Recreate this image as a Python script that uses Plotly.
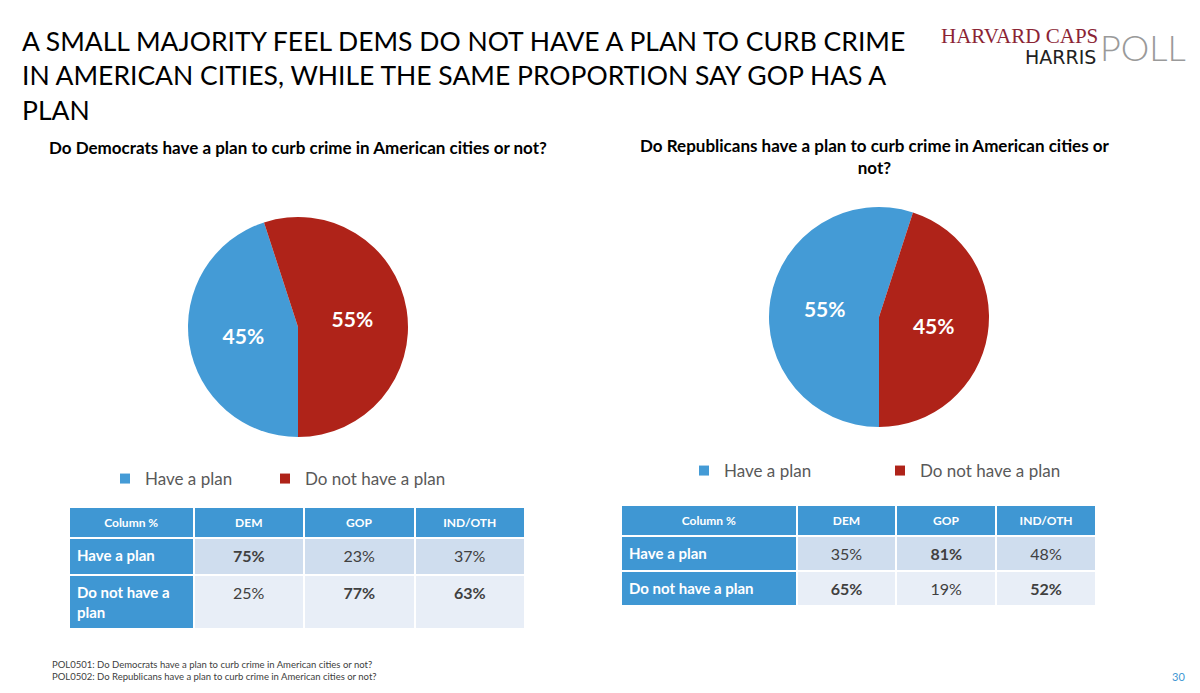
import plotly.graph_objects as go

# pie data
labels = ["Have a plan", "Do not have a plan"]
dem_pie = [45, 55]
gop_pie = [55, 45]

# crosstab data
columns = ["Column %", "DEM", "GOP", "IND/OTH"]
dem_rows = ["Have a plan", "Do not have a<br>plan"]
dem_tab = {"DEM": [75, 25], "GOP": [23, 77], "IND/OTH": [37, 63]}
gop_rows = ["Have a plan", "Do not have a plan"]
gop_tab = {"DEM": [35, 65], "GOP": [81, 19], "IND/OTH": [48, 52]}

BLUE = "#449BD6"
RED = "#AF2319"
HEAD = "#3F97D3"
ROW1 = "#CFDDEE"
ROW2 = "#E8EEF7"
FONT = "Lato"

W, H, OFF = 1200, 693, 8  # page body has an 8px margin


def px(x):
    return (x - OFF) / W


def py(y):
    return 1 - (y - OFF) / H


def fmt(v):
    # majority values are shown in bold
    return f"<b>{v}%</b>" if v > 50 else f"<span>{v}%</span>"


def make_table(rows, tab, x, y, widths, h):
    cells = [[f"<b>{r}</b>" for r in rows]]
    for c in columns[1:]:
        cells.append([fmt(v) for v in tab[c]])
    fills = [[HEAD] * len(rows)] + [[ROW1, ROW2] for _ in columns[1:]]
    fcols = [["white"] * len(rows)] + [["#404040"] * len(rows) for _ in columns[1:]]
    return go.Table(
        domain=dict(x=x, y=y),
        columnwidth=widths,
        header=dict(values=[f"<b>{c}</b>" for c in columns], fill_color=HEAD,
                    line=dict(color="white", width=2), align="center", height=28,
                    font=dict(family=FONT, size=12, color="white")),
        cells=dict(values=cells, fill_color=fills, line=dict(color="white", width=2),
                   align=["left", "center", "center", "center"], height=h,
                   font=dict(family=FONT, size=[15, 16, 16, 16], color=fcols)),
    )


fig = go.Figure()

pie_text = dict(family=FONT, size=21, color="white")
fig.add_trace(go.Pie(labels=labels, values=dem_pie, sort=False, direction="clockwise",
                     rotation=180, marker=dict(colors=[BLUE, RED]),
                     domain=dict(x=[px(188), px(408)], y=[py(437), py(217)]),
                     texttemplate="<b>%{value}%</b>", textposition="inside",
                     insidetextorientation="horizontal", textfont=pie_text,
                     hoverinfo="label+percent", showlegend=False))
fig.add_trace(go.Pie(labels=labels, values=gop_pie, sort=False, direction="clockwise",
                     rotation=180, marker=dict(colors=[BLUE, RED]),
                     domain=dict(x=[px(769), px(989)], y=[py(427), py(207)]),
                     texttemplate="<b>%{value}%</b>", textposition="inside",
                     insidetextorientation="horizontal", textfont=pie_text,
                     hoverinfo="label+percent", showlegend=False))

# one legend per entry so each can sit where the reference has it
leg_names = [["legend", "legend2"], ["legend3", "legend4"]]
for names in leg_names:
    for lab, col, lg in zip(labels, [BLUE, RED], names):
        fig.add_trace(go.Scatter(x=[None], y=[None], mode="markers", name=lab,
                                 marker=dict(symbol="square", size=10, color=col),
                                 legend=lg, showlegend=True))

fig.add_trace(make_table(dem_rows, dem_tab, [px(69), px(525)], [0, py(507)], [124, 110, 110, 110], 37))
fig.add_trace(make_table(gop_rows, gop_tab, [px(621), px(1097)], [0, py(505)], [176, 100, 100, 100], 34))

leg = dict(orientation="h", yanchor="middle", xanchor="left",
           font=dict(family=FONT, size=17, color="#595959"),
           bgcolor="rgba(0,0,0,0)")

fig.update_layout(
    width=W, height=H,
    margin=dict(l=0, r=0, t=0, b=0),
    paper_bgcolor="white", plot_bgcolor="white",
    legend=dict(leg, x=px(105), y=py(479)),
    legend2=dict(leg, x=px(265), y=py(479)),
    legend3=dict(leg, x=px(684), y=py(471)),
    legend4=dict(leg, x=px(880), y=py(471)),
    xaxis=dict(visible=False), yaxis=dict(visible=False),
    font=dict(family=FONT),
)

anns = [
    dict(text="A SMALL MAJORITY FEEL DEMS DO NOT HAVE A PLAN TO CURB CRIME<br>"
              "IN AMERICAN CITIES, WHILE THE SAME PROPORTION SAY GOP HAS A<br>PLAN",
         x=px(20), y=py(23), xanchor="left", yanchor="top", align="left",
         font=dict(family=FONT, size=26.5, color="black")),
    dict(text="<b>Do Democrats have a plan to curb crime in American cities or not?</b>",
         x=px(298), y=py(147), xanchor="center", yanchor="middle",
         font=dict(family=FONT, size=17, color="black")),
    dict(text="<b>Do Republicans have a plan to curb crime in American cities or<br>not?</b>",
         x=px(875), y=py(133), xanchor="center", yanchor="top", align="center",
         font=dict(family=FONT, size=17, color="black")),
    dict(text="POL0501: Do Democrats have a plan to curb crime in American cities or not?<br>"
              "POL0502: Do Republicans have a plan to curb crime in American cities or not?",
         x=px(50), y=py(657), xanchor="left", yanchor="top", align="left",
         font=dict(family=FONT, size=9.5, color="#404040")),
    dict(text="30", x=px(1187), y=py(676), xanchor="right", yanchor="middle",
         font=dict(family=FONT, size=11, color="#3F97D3")),
    # logo
    dict(text="HARVARD CAPS", x=px(1100), y=py(36), xanchor="right", yanchor="middle",
         font=dict(family="Liberation Serif", size=21, color="#8B2434")),
    dict(text="HARRIS", x=px(1098), y=py(57), xanchor="right", yanchor="middle",
         font=dict(family="DejaVu Sans", size=19, color="#222222")),
    dict(text="POLL", x=px(1098), y=py(47), xanchor="left", yanchor="middle",
         font=dict(family=FONT, size=36, color="#9A9A9A", weight=300)),
]
for a in anns:
    fig.add_annotation(xref="paper", yref="paper", showarrow=False, **a)

fig.write_html("out.html")
